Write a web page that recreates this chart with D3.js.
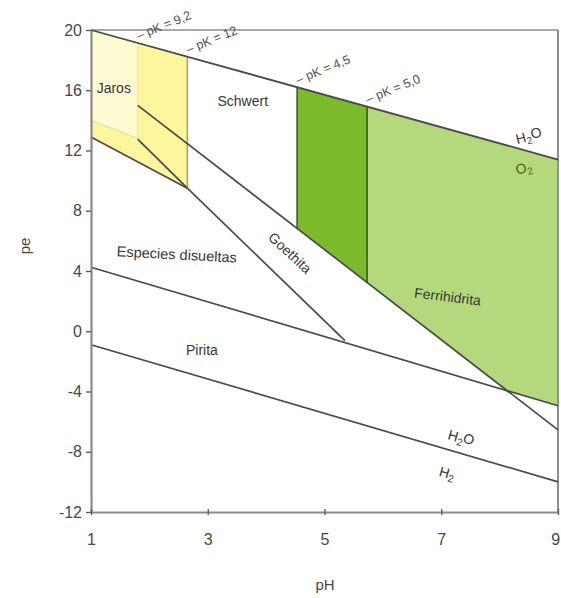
<!DOCTYPE html>
<html><head><meta charset="utf-8">
<script src="https://cdn.jsdelivr.net/npm/d3@7"></script>
<style>
body{margin:0;background:#fff}
svg{display:block}
text{font-family:"Liberation Sans",Arial,Helvetica,sans-serif}
</style>
</head><body>
<script>
// ---- data (pH, pe) ----
const xTicks = [1, 3, 5, 7, 9];
const yTicks = [20, 16, 12, 8, 4, 0, -4, -8, -12];

const lineO2        = [[1, 20], [9, 11.4]];
const lineH2        = [[1, -0.9], [9, -10]];
const lineDissolved = [[1, 4.25], [9, -4.95]];
const lineFerri     = [[1.8, 15.0], [9, -6.55]];
const lineGoethite  = [[2.65, 9.5], [5.35, -0.62]];
const lineJarosLow  = [[1, 12.9], [2.65, 9.5]];
const lineJarosIn   = [[1.8, 12.75], [2.65, 9.5]];
const lineJarosPale = [[1, 14.0], [1.8, 12.8]];
const vertPale      = [[1.8, 19.14], [1.8, 12.8]];
const vertJaros     = [[2.65, 18.23], [2.65, 9.5]];
const vertGreen1    = [[4.53, 16.2], [4.53, 6.83]];
const vertGreen2    = [[5.73, 14.92], [5.73, 3.24]];

const polyJaros     = [[1, 20], [2.65, 18.23], [2.65, 9.5], [1, 12.9]];
const polyJarosPale = [[1, 20], [1.8, 19.14], [1.8, 12.8], [1, 14.0]];
const polyFerriDark = [[4.53, 16.2], [5.73, 14.92], [5.73, 3.24], [4.53, 6.83]];
const polyFerriLight= [[5.73, 14.92], [9, 11.4], [9, -4.95], [8.15, -4.02], [5.73, 3.24]];

const pkNames  = ["pK = 9,2", "pK = 12", "pK = 4,5", "pK = 5,0"];
const pkPH     = [1.8, 2.65, 4.53, 5.73];

// ---- layout ----
const W = 561, H = 598;
const L = 91, R = 558, T = 30, B = 512;
const svg = d3.select("body").append("svg").attr("width", W).attr("height", H);
const x = d3.scaleLinear().domain([1, 9]).range([L, R]);
const y = d3.scaleLinear().domain([-12, 20]).range([B, T]);
const line = d3.line().x(d => x(d[0])).y(d => y(d[1]));
const poly = d => line(d) + "Z";
const topPe = ph => lineO2[0][1] + (lineO2[1][1] - lineO2[0][1]) * (ph - lineO2[0][0]) / (lineO2[1][0] - lineO2[0][0]);

// fills
svg.append("path").attr("d", poly(polyJaros)).attr("fill", "#fef69c");
svg.append("path").attr("d", poly(polyJarosPale)).attr("fill", "#fefbd3");
svg.append("path").attr("d", poly(polyFerriDark)).attr("fill", "#7cbb2c");
svg.append("path").attr("d", poly(polyFerriLight)).attr("fill", "#b4d97d");

// frame (top, right)
svg.append("line").attr("x1", L).attr("x2", R).attr("y1", T).attr("y2", T).attr("stroke", "#8f8f8f").attr("stroke-width", 1.5);
svg.append("line").attr("x1", R).attr("x2", R).attr("y1", T).attr("y2", B).attr("stroke", "#8f8f8f").attr("stroke-width", 2);

// boundary lines
const dark = "#4a4a4a";
function draw(d, col, w) {
  svg.append("path").attr("d", line(d)).attr("fill", "none").attr("stroke", col).attr("stroke-width", w);
}
draw(lineJarosPale, "#e4dfa6", 1.2);
draw(vertPale, "#ece8b8", 1.2);
draw(vertJaros, "#a9a561", 1.6);
draw(lineH2, dark, 1.7);
draw(lineDissolved, dark, 1.7);
draw(lineFerri, dark, 1.7);
draw(lineGoethite, dark, 1.7);
draw(lineJarosLow, dark, 1.7);
draw(lineJarosIn, dark, 1.7);
draw(vertGreen1, "#2f4d12", 1.4);
draw(vertGreen2, "#2f4d12", 1.4);
draw(lineO2, dark, 1.8);

// axes
const axCol = "#8a8a8a";
const gy = svg.append("g").attr("transform", `translate(${L},0)`)
  .call(d3.axisLeft(y).tickValues(yTicks).tickSize(5).tickSizeOuter(0).tickPadding(4).tickFormat(d => String(d)));
const gx = svg.append("g").attr("transform", `translate(0,${B})`)
  .call(d3.axisBottom(x).tickValues(xTicks).tickSize(4).tickSizeOuter(0).tickPadding(18).tickFormat(d => String(d)));
[gy, gx].forEach(g => {
  g.select(".domain").attr("stroke", axCol).attr("stroke-width", 2.2);
  g.selectAll(".tick line").attr("stroke", "#555").attr("stroke-width", 1.3);
  g.selectAll(".tick text").attr("fill", "#484848").style("font-size", "16px");
});
gx.selectAll(".tick line").attr("y1", -3).attr("y2", 3);
gx.selectAll(".tick text").filter(d => d === 9).attr("text-anchor", "end").attr("dx", "0.1em");

// axis titles
svg.append("text").attr("x", 325).attr("y", 590).attr("text-anchor", "middle")
  .attr("fill", "#484848").style("font-size", "15px").text("pH");
svg.append("text").attr("transform", "translate(30,246) rotate(-90)").attr("text-anchor", "middle")
  .attr("fill", "#484848").style("font-size", "15px").text("pe");

// region labels
const labCol = "#383838";
function label(ph, pe, rot, size, col) {
  return svg.append("text")
    .attr("transform", `translate(${x(ph)},${y(pe)}) rotate(${rot || 0})`)
    .attr("text-anchor", "middle").attr("dy", "0.35em")
    .attr("fill", col || labCol).style("font-size", (size || 14) + "px");
}
label(1.39, 16.15, 0, 14).text("Jaros");
label(3.60, 15.3, 0, 14).text("Schwert");
label(2.47, 5.1, 3, 14.5).text("Especies disueltas");
label(4.41, 5.2, 43, 14).text("Goethita");
label(7.11, 2.3, 7, 14).text("Ferrihidrita");
label(2.90, -1.25, 0, 14).text("Pirita");

function sub(t, base, s, tail) {
  t.append("tspan").text(base);
  t.append("tspan").attr("dy", "0.3em").style("font-size", "10px").text(s);
  if (tail) t.append("tspan").attr("dy", "-0.3em").text(tail);
}
sub(label(8.5, 12.96, -15, 14), "H", "2", "O");
sub(label(8.41, 10.84, -15, 14, "#3d6a12"), "O", "2");
sub(label(7.34, -7.09, 16, 14), "H", "2", "O");
sub(label(7.1, -9.42, 16, 14), "H", "2");

// pK labels along the upper water line
pkPH.forEach((ph, i) => {
  svg.append("text")
    .attr("transform", `translate(${x(ph) + 1},${y(topPe(ph)) - 3}) rotate(-22)`)
    .attr("fill", "#505050").style("font-size", "12.5px")
    .text("\u2013 " + pkNames[i]);
});
</script>
</body></html>
